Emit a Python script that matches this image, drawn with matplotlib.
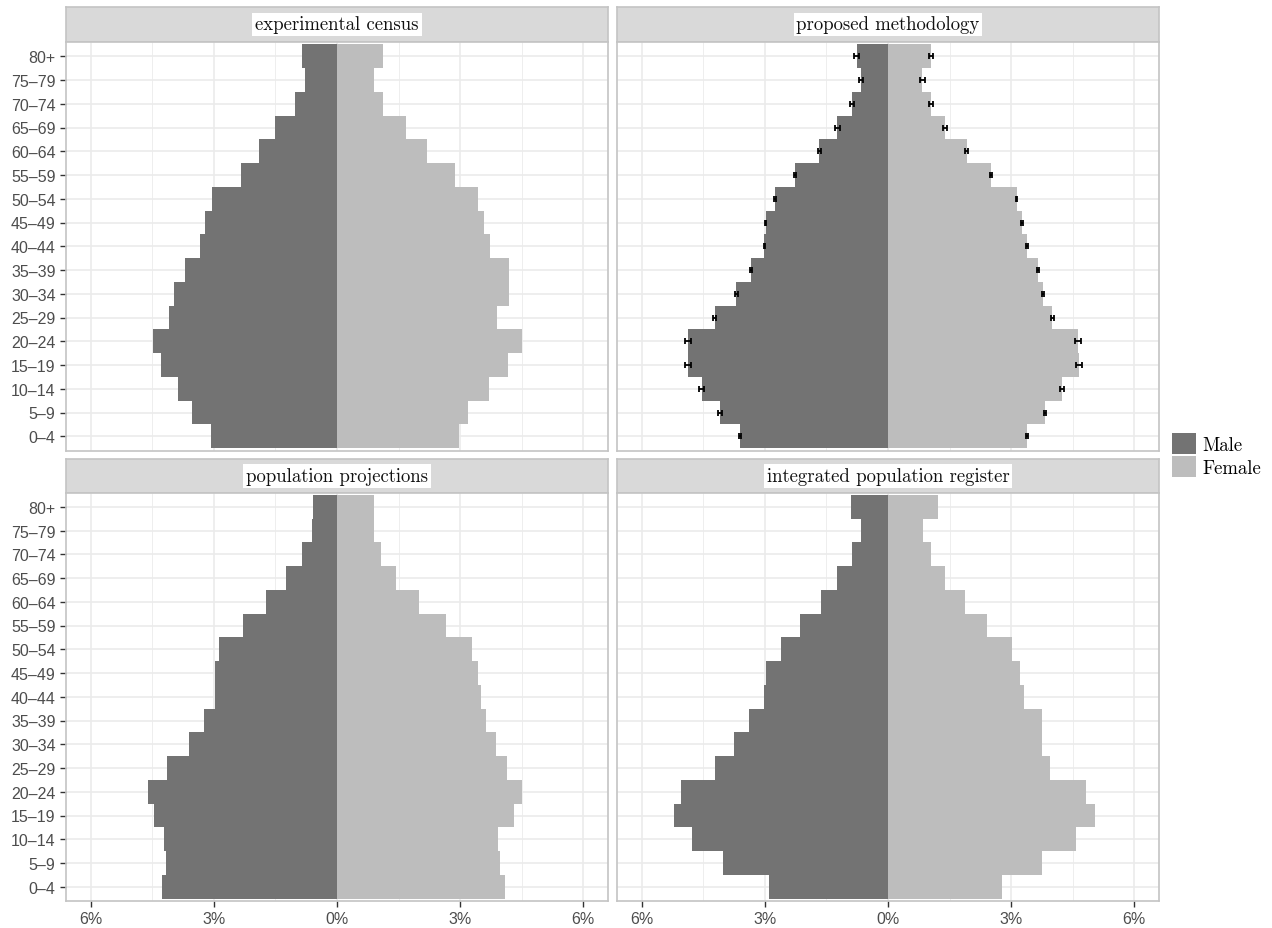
import matplotlib
matplotlib.use("Agg")
import matplotlib.pyplot as plt
from matplotlib.patches import Patch
import numpy as np

ages = ["0-4", "5-9", "10-14", "15-19", "20-24", "25-29", "30-34", "35-39",
        "40-44", "45-49", "50-54", "55-59", "60-64", "65-69", "70-74",
        "75-79", "80+"]
age_labels = [a.replace("-", "\u2013") for a in ages]

panel_titles = ["experimental census", "proposed methodology",
                "population projections", "integrated population register"]

# shares in %, ordered 0-4 ... 80+
census_male = [3.08, 3.52, 3.87, 4.28, 4.49, 4.10, 3.98, 3.69, 3.34, 3.22,
               3.05, 2.34, 1.90, 1.50, 1.03, 0.77, 0.86]
census_female = [2.96, 3.20, 3.69, 4.16, 4.51, 3.90, 4.19, 4.19, 3.72, 3.57,
                 3.43, 2.87, 2.20, 1.68, 1.13, 0.90, 1.11]

proposed_male = [3.60, 4.09, 4.54, 4.87, 4.87, 4.22, 3.69, 3.34, 3.01, 2.98,
                 2.75, 2.26, 1.67, 1.23, 0.88, 0.65, 0.76]
proposed_female = [3.38, 3.83, 4.23, 4.65, 4.62, 4.00, 3.77, 3.65, 3.38, 3.26,
                   3.13, 2.51, 1.92, 1.39, 1.04, 0.84, 1.04]
proposed_male_err = [0.03, 0.04, 0.06, 0.08, 0.08, 0.04, 0.03, 0.02, 0.02, 0.02,
                     0.02, 0.03, 0.04, 0.05, 0.05, 0.05, 0.06]
proposed_female_err = [0.02, 0.03, 0.05, 0.07, 0.07, 0.04, 0.03, 0.03, 0.02, 0.02,
                       0.02, 0.03, 0.04, 0.05, 0.05, 0.05, 0.05]

projection_male = [4.27, 4.17, 4.22, 4.46, 4.60, 4.14, 3.60, 3.25, 2.97, 2.96,
                   2.87, 2.29, 1.73, 1.23, 0.85, 0.60, 0.58]
projection_female = [4.08, 3.96, 3.93, 4.31, 4.51, 4.14, 3.87, 3.64, 3.51, 3.43,
                     3.28, 2.66, 2.00, 1.43, 1.08, 0.90, 0.90]

register_male = [2.90, 4.01, 4.77, 5.21, 5.03, 4.22, 3.74, 3.39, 3.01, 2.96,
                 2.60, 2.15, 1.62, 1.23, 0.88, 0.65, 0.91]
register_female = [2.78, 3.74, 4.59, 5.03, 4.83, 3.95, 3.74, 3.74, 3.30, 3.21,
                   3.03, 2.40, 1.88, 1.39, 1.04, 0.86, 1.22]

male_col = "#737373"
female_col = "#bdbdbd"
grid_col = "#ebebeb"
border_col = "#c4c4c4"

W, H = 1272, 929
fig = plt.figure(figsize=(W / 100, H / 100), dpi=100)


def px_axes(x0, y0, x1, y1):
    return fig.add_axes([x0 / W, 1 - y1 / H, (x1 - x0) / W, (y1 - y0) / H])


panels = [
    (census_male, census_female, None, None),
    (proposed_male, proposed_female, proposed_male_err, proposed_female_err),
    (projection_male, projection_female, None, None),
    (register_male, register_female, None, None),
]
cols = [(66, 608), (617, 1159)]
rows = [(8, 43, 451.5), (460, 493.5, 902)]

y = np.arange(len(ages))
for i, (male, female, merr, ferr) in enumerate(panels):
    r, c = divmod(i, 2)
    x0, x1 = cols[c]
    s0, p0, p1 = rows[r]

    # strip
    sax = px_axes(x0, s0, x1, p0)
    sax.set_facecolor("#d9d9d9")
    sax.set_xticks([])
    sax.set_yticks([])
    for sp in sax.spines.values():
        sp.set_color(border_col)
        sp.set_linewidth(1.2)
    sax.text(0.5, 0.5, panel_titles[i], transform=sax.transAxes,
             ha="center", va="center", fontsize=13.5, family="cmr10",
             color="#111111",
             bbox=dict(facecolor="white", edgecolor="none", pad=2))

    ax = px_axes(x0, p0, x1, p1)
    ax.set_axisbelow(True)
    ax.barh(y, -np.array(male), height=1.0, color=male_col, linewidth=0)
    ax.barh(y, female, height=1.0, color=female_col, linewidth=0)
    if merr is not None:
        ax.errorbar(-np.array(male), y, xerr=merr, fmt="none", ecolor="black",
                    elinewidth=1.3, capsize=2.5, capthick=1.3)
        ax.errorbar(female, y, xerr=ferr, fmt="none", ecolor="black",
                    elinewidth=1.3, capsize=2.5, capthick=1.3)

    ax.set_xlim(-6.6, 6.6)
    ax.set_ylim(-0.6, 16.6)
    for v in [-4.5, -1.5, 1.5, 4.5]:
        ax.axvline(v, color=grid_col, lw=0.6, zorder=0)
    for v in [-6, -3, 0, 3, 6]:
        ax.axvline(v, color=grid_col, lw=1.2, zorder=0)
    for v in y:
        ax.axhline(v, color=grid_col, lw=1.2, zorder=0)

    ax.set_xticks([-6, -3, 0, 3, 6], ["6%", "3%", "0%", "3%", "6%"])
    ax.set_yticks(y, age_labels)
    ax.tick_params(axis="both", colors="#333333", labelcolor="#4d4d4d",
                   labelsize=11.5, length=4, width=1)
    for lab in ax.get_xticklabels() + ax.get_yticklabels():
        lab.set_family("Liberation Sans")
    if r == 0:
        ax.tick_params(axis="x", length=0, labelbottom=False)
    if c == 1:
        ax.tick_params(axis="y", length=0, labelleft=False)
    for sp in ax.spines.values():
        sp.set_color(border_col)
        sp.set_linewidth(1.2)

handles = [Patch(facecolor=male_col, edgecolor="none"),
           Patch(facecolor=female_col, edgecolor="none")]
fig.legend(handles, ["Male", "Female"], loc="center left",
           bbox_to_anchor=(1164 / W, 1 - 456 / H), frameon=False,
           prop={"family": "cmr10", "size": 13.5}, handlelength=1.3,
           handleheight=1.3, handletextpad=0.35, labelspacing=0.15,
           borderaxespad=0)

fig.savefig("out.png", dpi=100)
